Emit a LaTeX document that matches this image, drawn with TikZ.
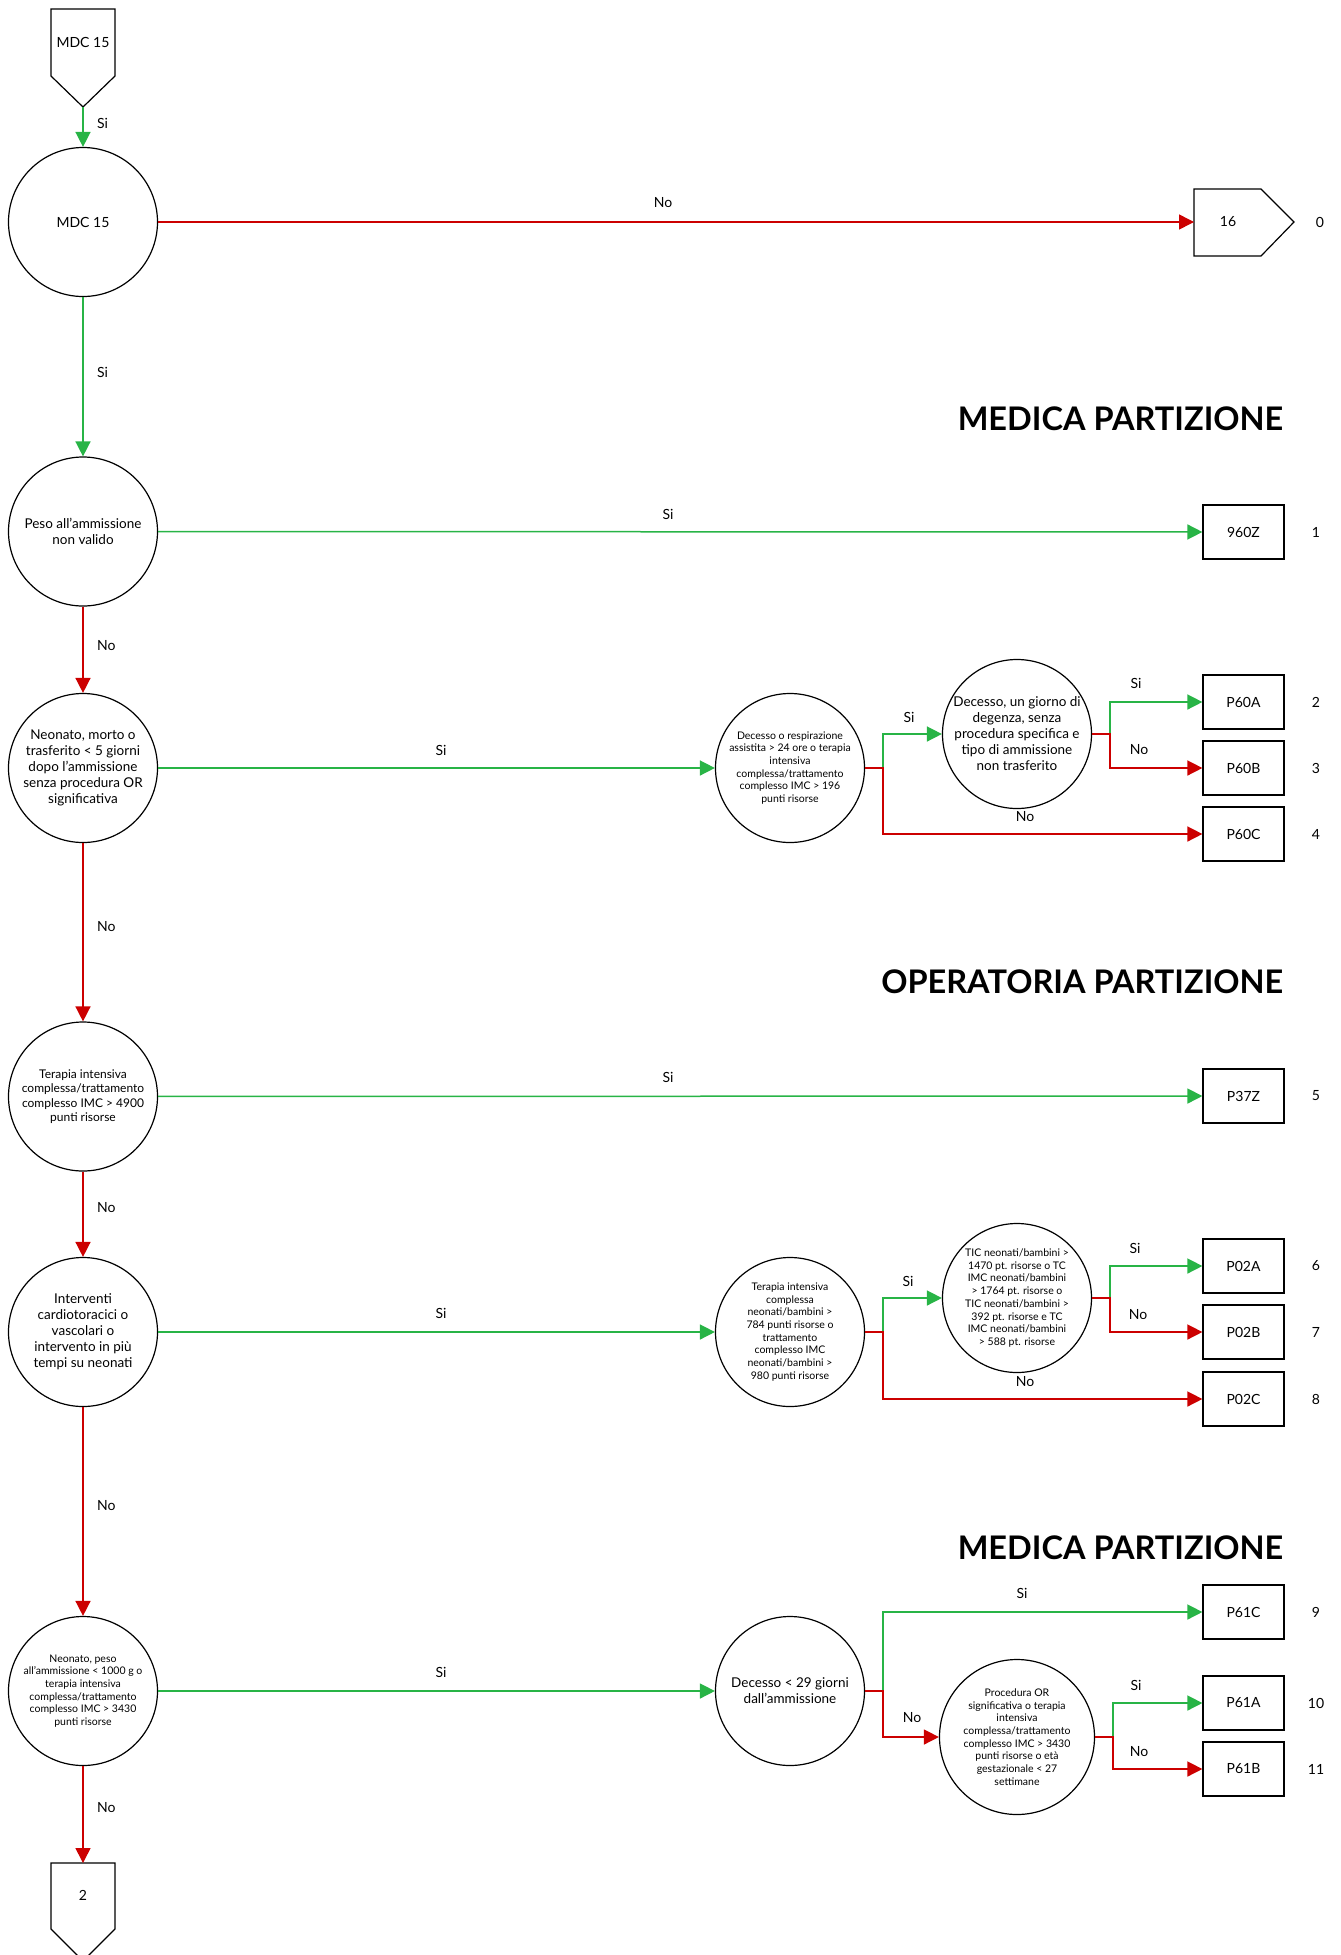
\documentclass[tikz,border=0pt]{standalone}
\usepackage{fontspec}
\setmainfont{Lato}
\usetikzlibrary{arrows.meta}
\definecolor{yes}{RGB}{40,180,70}
\definecolor{nope}{RGB}{204,0,0}

\begin{document}
\begin{tikzpicture}[x=1pt,y=-1pt,line width=1.5pt,>={Triangle[length=15pt,width=15pt]},
  ask/.style={circle,draw,line width=1.2pt,minimum size=149pt,inner sep=0pt,align=center,font=\fontsize{13.5}{16}\selectfont},
  smalltxt/.style={font=\fontsize{10.5}{12.7}\selectfont},
  midtxt/.style={font=\fontsize{12}{14.5}\selectfont},
  drg/.style={rectangle,draw,line width=1.2pt,minimum width=81pt,minimum height=54pt,font=\fontsize{14}{16}\selectfont},
  tag/.style={font=\fontsize{14}{16}\selectfont},
  heading/.style={anchor=base east,inner sep=0pt,font=\fontsize{32.5}{38}\selectfont\bfseries},
  si/.style={yes,->},
  no/.style={nope,->}]
\useasboundingbox (0,0) rectangle (1341,1955);

\draw[line width=1.2pt] (51,9) -- (115,9) -- (115,76) -- (83,107) -- (51,76) -- cycle;
\node[tag] (0) at (83,42) {MDC 15};
\coordinate (0tip) at (83,107);
\draw[line width=1.2pt] (1194,189) -- (1261,189) -- (1294,222) -- (1261,256) -- (1194,256) -- cycle;
\node[tag] (16) at (1228,222) {16};
\coordinate (16in) at (1194,222);
\draw[line width=1.2pt] (51,1863) -- (115,1863) -- (115,1929) -- (83,1961) -- (51,1929) -- cycle;
\node[tag] (2) at (83,1895) {2};
\coordinate (2in) at (83,1863);

\node[heading] (h1) at (1284,430) {MEDICA PARTIZIONE};
\node[heading] (h2) at (1284,993) {OPERATORIA PARTIZIONE};
\node[heading] (h3) at (1284,1559) {MEDICA PARTIZIONE};

\node[ask,font=\fontsize{14}{16}\selectfont] (1) at (83,222) {MDC 15};
\node[ask] (2a) at (83,531.5) {Peso all’ammissione\\non valido};
\node[ask] (3) at (83,768) {Neonato, morto o\\trasferito < 5 giorni\\dopo l’ammissione\\senza procedura OR\\significativa};
\node[ask,smalltxt] (4) at (790,768) {Decesso o respirazione\\assistita > 24 ore o terapia\\intensiva\\complessa/trattamento\\complesso IMC > 196\\punti risorse};
\node[ask] (5) at (1017,734) {Decesso, un giorno di\\degenza, senza\\procedura specifica e\\tipo di ammissione\\non trasferito};
\node[ask,midtxt] (6) at (83,1096.5) {Terapia intensiva\\complessa/trattamento\\complesso IMC > 4900\\punti risorse};
\node[ask] (7) at (83,1332) {Interventi\\cardiotoracici o\\vascolari o\\intervento in più\\tempi su neonati};
\node[ask,smalltxt] (8) at (790,1332) {Terapia intensiva\\complessa\\neonati/bambini >\\784 punti risorse o\\trattamento\\complesso IMC\\neonati/bambini >\\980 punti risorse};
\node[ask,smalltxt] (9) at (1017,1298) {TIC neonati/bambini >\\1470 pt. risorse o TC\\IMC neonati/bambini\\> 1764 pt. risorse o\\TIC neonati/bambini >\\392 pt. risorse e TC\\IMC neonati/bambini\\> 588 pt. risorse};
\node[ask,smalltxt] (10) at (83,1691) {Neonato, peso\\all’ammissione < 1000 g o\\terapia intensiva\\complessa/trattamento\\complesso IMC > 3430\\punti risorse};
\node[ask] (11) at (790,1691) {Decesso < 29 giorni\\dall’ammissione};
\node[ask,smalltxt,minimum size=155pt] (12) at (1017,1737) {Procedura OR\\significativa o terapia\\intensiva\\complessa/trattamento\\complesso IMC > 3430\\punti risorse o età\\gestazionale < 27\\settimane};

\node[drg] (960Z) at (1243.5,532) {960Z};
\node[drg] (P60A) at (1243.5,702) {P60A};
\node[drg] (P60B) at (1243.5,768) {P60B};
\node[drg] (P60C) at (1243.5,834) {P60C};
\node[drg] (P37Z) at (1243.5,1096) {P37Z};
\node[drg] (P02A) at (1243.5,1266) {P02A};
\node[drg] (P02B) at (1243.5,1332) {P02B};
\node[drg] (P02C) at (1243.5,1399) {P02C};
\node[drg] (P61C) at (1243.5,1612) {P61C};
\node[drg] (P61A) at (1243.5,1703) {P61A};
\node[drg] (P61B) at (1243.5,1769) {P61B};

\node[tag] (r0) at (1320,222) {0};
\node[tag] (r1) at (1316,532) {1};
\node[tag] (r2) at (1316,702) {2};
\node[tag] (r3) at (1316,768) {3};
\node[tag] (r4) at (1316,834) {4};
\node[tag] (r5) at (1316,1096) {5};
\node[tag] (r6) at (1316,1266) {6};
\node[tag] (r7) at (1316,1332) {7};
\node[tag] (r8) at (1316,1399) {8};
\node[tag] (r9) at (1316,1612) {9};
\node[tag] (r10) at (1316,1703) {10};
\node[tag] (r11) at (1316,1769) {11};

\draw[si] (0tip) to (1);
\draw[no] (1) to (16in);
\draw[si] (1) to (2a);
\draw[si] (2a) to (960Z);
\draw[no] (2a) to (3);
\draw[si] (3) to (4);
\draw[si] (4.east) -- ++(18,0) |- (5.west);
\draw[no] (4.east) -- ++(18,0) |- (P60C.west);
\draw[si] (5.east) -- ++(18,0) |- (P60A.west);
\draw[no] (5.east) -- ++(18,0) |- (P60B.west);
\draw[no] (3) to (6);
\draw[si] (6) to (P37Z);
\draw[no] (6) to (7);
\draw[si] (7) to (8);
\draw[si] (8.east) -- ++(18,0) |- (9.west);
\draw[no] (8.east) -- ++(18,0) |- (P02C.west);
\draw[si] (9.east) -- ++(18,0) |- (P02A.west);
\draw[no] (9.east) -- ++(18,0) |- (P02B.west);
\draw[no] (7) to (10);
\draw[si] (10) to (11);
\draw[si] (11.east) -- ++(18,0) |- (P61C.west);
\draw[no] (11.east) -- ++(18,0) |- (12.west);
\draw[si] (12.east) -- ++(18,0) |- (P61A.west);
\draw[no] (12.east) -- ++(18,0) |- (P61B.west);
\draw[no] (10) to (2in);

\node[tag,anchor=west] (l1) at (93,123) {Si};
\node[tag] (l2) at (663,203) {No};
\node[tag,anchor=west] (l3) at (93,372) {Si};
\node[tag] (l4) at (668,514) {Si};
\node[tag,anchor=west] (l5) at (93,646) {No};
\node[tag] (l6) at (441,750) {Si};
\node[tag] (l7) at (909,717) {Si};
\node[tag] (l8) at (1025,817) {No};
\node[tag] (l9) at (1136,683) {Si};
\node[tag] (l10) at (1139,750) {No};
\node[tag,anchor=west] (l11) at (93,927) {No};
\node[tag] (l12) at (668,1077) {Si};
\node[tag,anchor=west] (l13) at (93,1208) {No};
\node[tag] (l14) at (441,1313) {Si};
\node[tag] (l15) at (908,1281) {Si};
\node[tag] (l16) at (1025,1382) {No};
\node[tag] (l17) at (1135,1248) {Si};
\node[tag] (l18) at (1138,1315) {No};
\node[tag,anchor=west] (l19) at (93,1506) {No};
\node[tag] (l20) at (441,1672) {Si};
\node[tag] (l21) at (1022,1593) {Si};
\node[tag] (l22) at (912,1718) {No};
\node[tag] (l23) at (1136,1685) {Si};
\node[tag] (l24) at (1139,1752) {No};
\node[tag,anchor=west] (l25) at (93,1808) {No};
\end{tikzpicture}
\end{document}
